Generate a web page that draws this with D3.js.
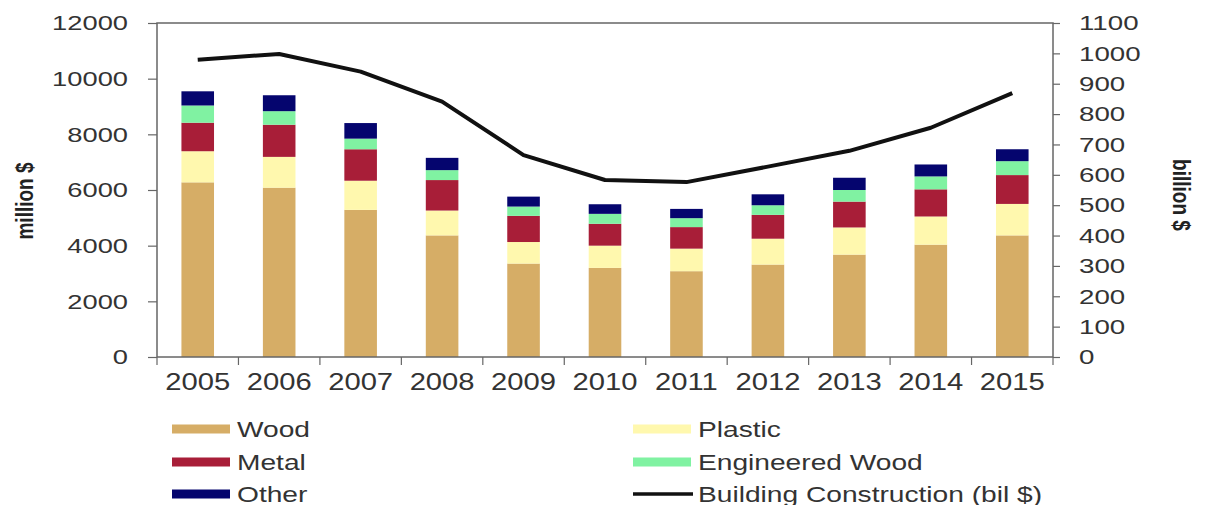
<!DOCTYPE html>
<html>
<head>
<meta charset="utf-8">
<script src="https://cdn.jsdelivr.net/npm/d3@7"></script>
<style>
  html, body { margin: 0; padding: 0; background: #fff; }
  svg { display: block; font-family: "Liberation Sans", Arial, sans-serif; }
</style>
</head>
<body>
<svg id="chart" width="1205" height="505"></svg>
<script>
// ---- data ----
const years = ["2005","2006","2007","2008","2009","2010","2011","2012","2013","2014","2015"];
const wood        = [6275, 6083, 5286, 4369, 3357, 3202, 3083, 3321, 3679, 4036, 4369];
const plastic     = [1118, 1107, 1047,  893,  774,  798,  810,  929,  975, 1012, 1131];
const metal       = [1025, 1155, 1131, 1095,  940,  786,  774,  857,  929,  976, 1036];
const engWood     = [ 618,  487,  381,  357,  334,  357,  321,  345,  417,  464,  500];
const other       = [ 510,  572,  560,  441,  357,  345,  333,  393,  440,  429,  428];
const construction= [ 979,  998,  940,  841,  665,  583,  576,  627,  679,  755,  869];
const leftTicks  = [0, 2000, 4000, 6000, 8000, 10000, 12000];
const rightTicks = [0,100,200,300,400,500,600,700,800,900,1000,1100];
const seriesNames = ["Wood","Plastic","Metal","Engineered Wood","Other"];
const seriesColors = ["#D6AD66","#FFF8AE","#A81E38","#80F2A2","#05056E"];

// ---- layout ----
const svg = d3.select("#chart");
const L = 157, R = 1053, T = 23, B = 357;
const SX = 1.3; // horizontal text stretch seen in reference

const x = d3.scaleBand().domain(years).range([L, R]).paddingInner(0.6).paddingOuter(0.3);
const yL = d3.scaleLinear().domain([0, 12000]).range([B, T]);
const yR = d3.scaleLinear().domain([0, 1100]).range([B, T]);

const rows = years.map((yr, i) => ({
  year: yr, Wood: wood[i], Plastic: plastic[i], Metal: metal[i],
  "Engineered Wood": engWood[i], Other: other[i]
}));
const stacked = d3.stack().keys(seriesNames)(rows);

function stretchedText(g, x0, y0, txt, opts) {
  const t = g.append("text")
    .attr("transform", `translate(${x0},${y0}) scale(${opts.sx || SX},1)`)
    .attr("font-size", opts.size)
    .attr("text-anchor", opts.anchor || "start")
    .attr("dominant-baseline", "central")
    .attr("fill", opts.fill || "#333")
    .attr("font-weight", opts.weight || "normal")
    .text(txt);
  return t;
}

// bars
svg.append("g").selectAll("g").data(stacked).join("g")
  .attr("fill", (d, i) => seriesColors[i])
  .selectAll("rect").data(d => d).join("rect")
  .attr("x", d => x(d.data.year))
  .attr("width", x.bandwidth())
  .attr("y", d => yL(d[1]))
  .attr("height", d => yL(d[0]) - yL(d[1]));

// frame
const axisColor = "#666";
svg.append("rect").attr("x", L).attr("y", T).attr("width", R - L).attr("height", B - T)
  .attr("fill", "none").attr("stroke", axisColor).attr("stroke-width", 1.5);

// left axis
const gL = svg.append("g").attr("transform", `translate(${L},0)`)
  .call(d3.axisLeft(yL).tickValues(leftTicks).tickSize(9).tickFormat(d3.format("d")));
gL.select(".domain").remove();
gL.selectAll("line").attr("stroke", axisColor).attr("stroke-width", 1.2);
gL.selectAll("text").remove();
leftTicks.forEach(v => stretchedText(svg, 128, yL(v), String(v), {size: 21, anchor: "end", sx: 1.3}));

// right axis
const gR = svg.append("g").attr("transform", `translate(${R},0)`)
  .call(d3.axisRight(yR).tickValues(rightTicks).tickSize(7));
gR.select(".domain").remove();
gR.selectAll("line").attr("stroke", axisColor).attr("stroke-width", 1.2);
gR.selectAll("text").remove();
rightTicks.forEach(v => stretchedText(svg, 1079, yR(v), String(v), {size: 21, anchor: "start", sx: 1.32}));

// bottom axis ticks at band boundaries
const step = x.step();
const bounds = d3.range(years.length + 1).map(i => L + i * (R - L) / years.length);
svg.append("g").selectAll("line").data(bounds).join("line")
  .attr("x1", d => d).attr("x2", d => d).attr("y1", B).attr("y2", B + 8)
  .attr("stroke", axisColor).attr("stroke-width", 1.2);
years.forEach(yr => stretchedText(svg, x(yr) + x.bandwidth() / 2, 382, yr, {size: 23, anchor: "middle", sx: 1.27}));

// line
const line = d3.line().x((d, i) => x(years[i]) + x.bandwidth() / 2).y(d => yR(d));
svg.append("path").datum(construction).attr("d", line)
  .attr("fill", "none").attr("stroke", "#111").attr("stroke-width", 4).attr("stroke-linejoin", "round");

// axis titles
svg.append("text")
  .attr("transform", `translate(25,201) scale(1.25,1) rotate(-90)`)
  .attr("text-anchor", "middle").attr("dominant-baseline", "central")
  .attr("font-size", 19).attr("font-weight", "bold").attr("fill", "#222")
  .text("million $");
svg.append("text")
  .attr("transform", `translate(1181,195) scale(1.25,1) rotate(90)`)
  .attr("text-anchor", "middle").attr("dominant-baseline", "central")
  .attr("font-size", 19).attr("font-weight", "bold").attr("fill", "#222")
  .text("billion $");

// legend
const legendItems = [
  {name: "Wood", color: seriesColors[0], type: "bar", x: 172, y: 429},
  {name: "Metal", color: seriesColors[2], type: "bar", x: 172, y: 462},
  {name: "Other", color: seriesColors[4], type: "bar", x: 172, y: 494},
  {name: "Plastic", color: seriesColors[1], type: "bar", x: 633, y: 429},
  {name: "Engineered Wood", color: seriesColors[3], type: "bar", x: 633, y: 462},
  {name: "Building Construction (bil $)", color: "#111", type: "line", x: 633, y: 494}
];
const lg = svg.append("g");
legendItems.forEach(it => {
  if (it.type === "bar") {
    lg.append("rect").attr("x", it.x).attr("y", it.y - 4.5).attr("width", 58).attr("height", 9).attr("fill", it.color);
  } else {
    lg.append("line").attr("x1", it.x).attr("x2", it.x + 60).attr("y1", it.y).attr("y2", it.y)
      .attr("stroke", it.color).attr("stroke-width", 3.5);
  }
  stretchedText(lg, it.x + 65, it.y, it.name, {size: 22, anchor: "start", sx: 1.28});
});
</script>
</body>
</html>
